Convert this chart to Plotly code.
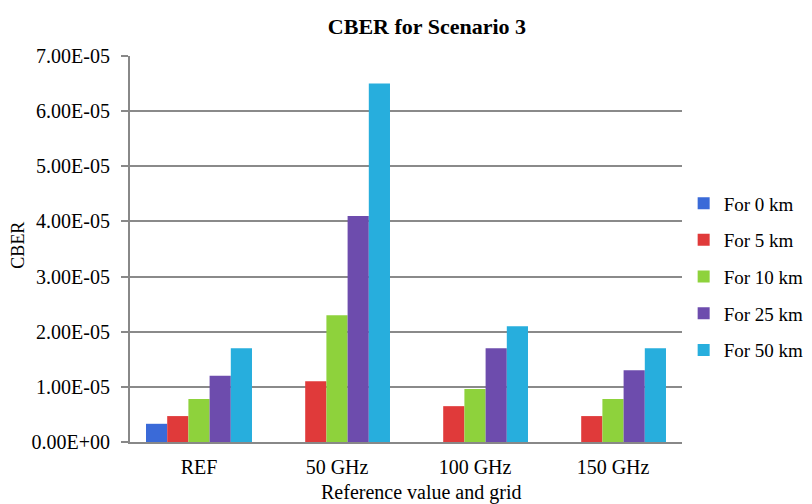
import plotly.graph_objects as go

categories = ["REF", "50 GHz", "100 GHz", "150 GHz"]
series_names = ["For 0 km", "For 5 km", "For 10 km", "For 25 km", "For 50 km"]
v_0km = [3.3e-6, 0, 0, 0]
v_5km = [4.7e-6, 1.1e-5, 6.5e-6, 4.7e-6]
v_10km = [7.8e-6, 2.3e-5, 9.6e-6, 7.8e-6]
v_25km = [1.2e-5, 4.1e-5, 1.7e-5, 1.3e-5]
v_50km = [1.7e-5, 6.5e-5, 2.1e-5, 1.7e-5]
tick_vals = [0, 1e-5, 2e-5, 3e-5, 4e-5, 5e-5, 6e-5, 7e-5]
tick_text = ["0.00E+00", "1.00E-05", "2.00E-05", "3.00E-05", "4.00E-05",
             "5.00E-05", "6.00E-05", "7.00E-05"]

colors = ["#3a6ad8", "#e03a3a", "#8ed23c", "#6d4cad", "#27aedd"]

font = "Liberation Serif, Times New Roman, serif"

fig = go.Figure()
for i, (name, vals, c) in enumerate(zip(series_names, [v_0km, v_5km, v_10km, v_25km, v_50km], colors)):
    fig.add_trace(go.Bar(x=categories, y=vals, name=name, legendgroup=str(i),
                         marker=dict(color=c, line=dict(width=0))))

fig.update_layout(
    width=812, height=504,
    margin=dict(l=122, r=138, t=48, b=70, autoexpand=False),
    paper_bgcolor="white", plot_bgcolor="white",
    barmode="group", bargap=0.232, bargroupgap=0,
    font=dict(family=font, size=20, color="black"),
    title=dict(text="<b>CBER for Scenario 3</b>", x=0.538, xref="paper", xanchor="center",
               y=0.963, yref="container", yanchor="middle", font=dict(size=22, family=font)),
    legend=dict(x=1.003, xanchor="left", y=0.428, yanchor="middle",
                font=dict(size=19, family=font), itemwidth=30, tracegroupgap=9),
    showlegend=True,
    annotations=[
        dict(text="Reference value and grid", xref="paper", yref="paper", x=0.527, y=-0.132,
             xanchor="center", yanchor="middle", showarrow=False, font=dict(size=20, family=font)),
        dict(text="CBER", xref="paper", yref="paper", x=-0.202, y=0.51, textangle=-90,
             xanchor="center", yanchor="middle", showarrow=False, font=dict(size=18, family=font)),
    ],
)
fig.update_xaxes(showline=True, linecolor="#888888", linewidth=2, ticks="", showgrid=False,
                 tickfont=dict(size=20), ticklabelstandoff=6)
fig.update_yaxes(range=[0, 7e-5], tickvals=tick_vals, ticktext=tick_text,
                 showline=True, linecolor="#888888", linewidth=2,
                 ticks="outside", ticklen=7, tickcolor="#888888", tickwidth=2,
                 showgrid=True, gridcolor="#8a8a8a", gridwidth=2,
                 zeroline=False, tickfont=dict(size=20), ticklabelstandoff=7)

fig.write_html("out.html")
